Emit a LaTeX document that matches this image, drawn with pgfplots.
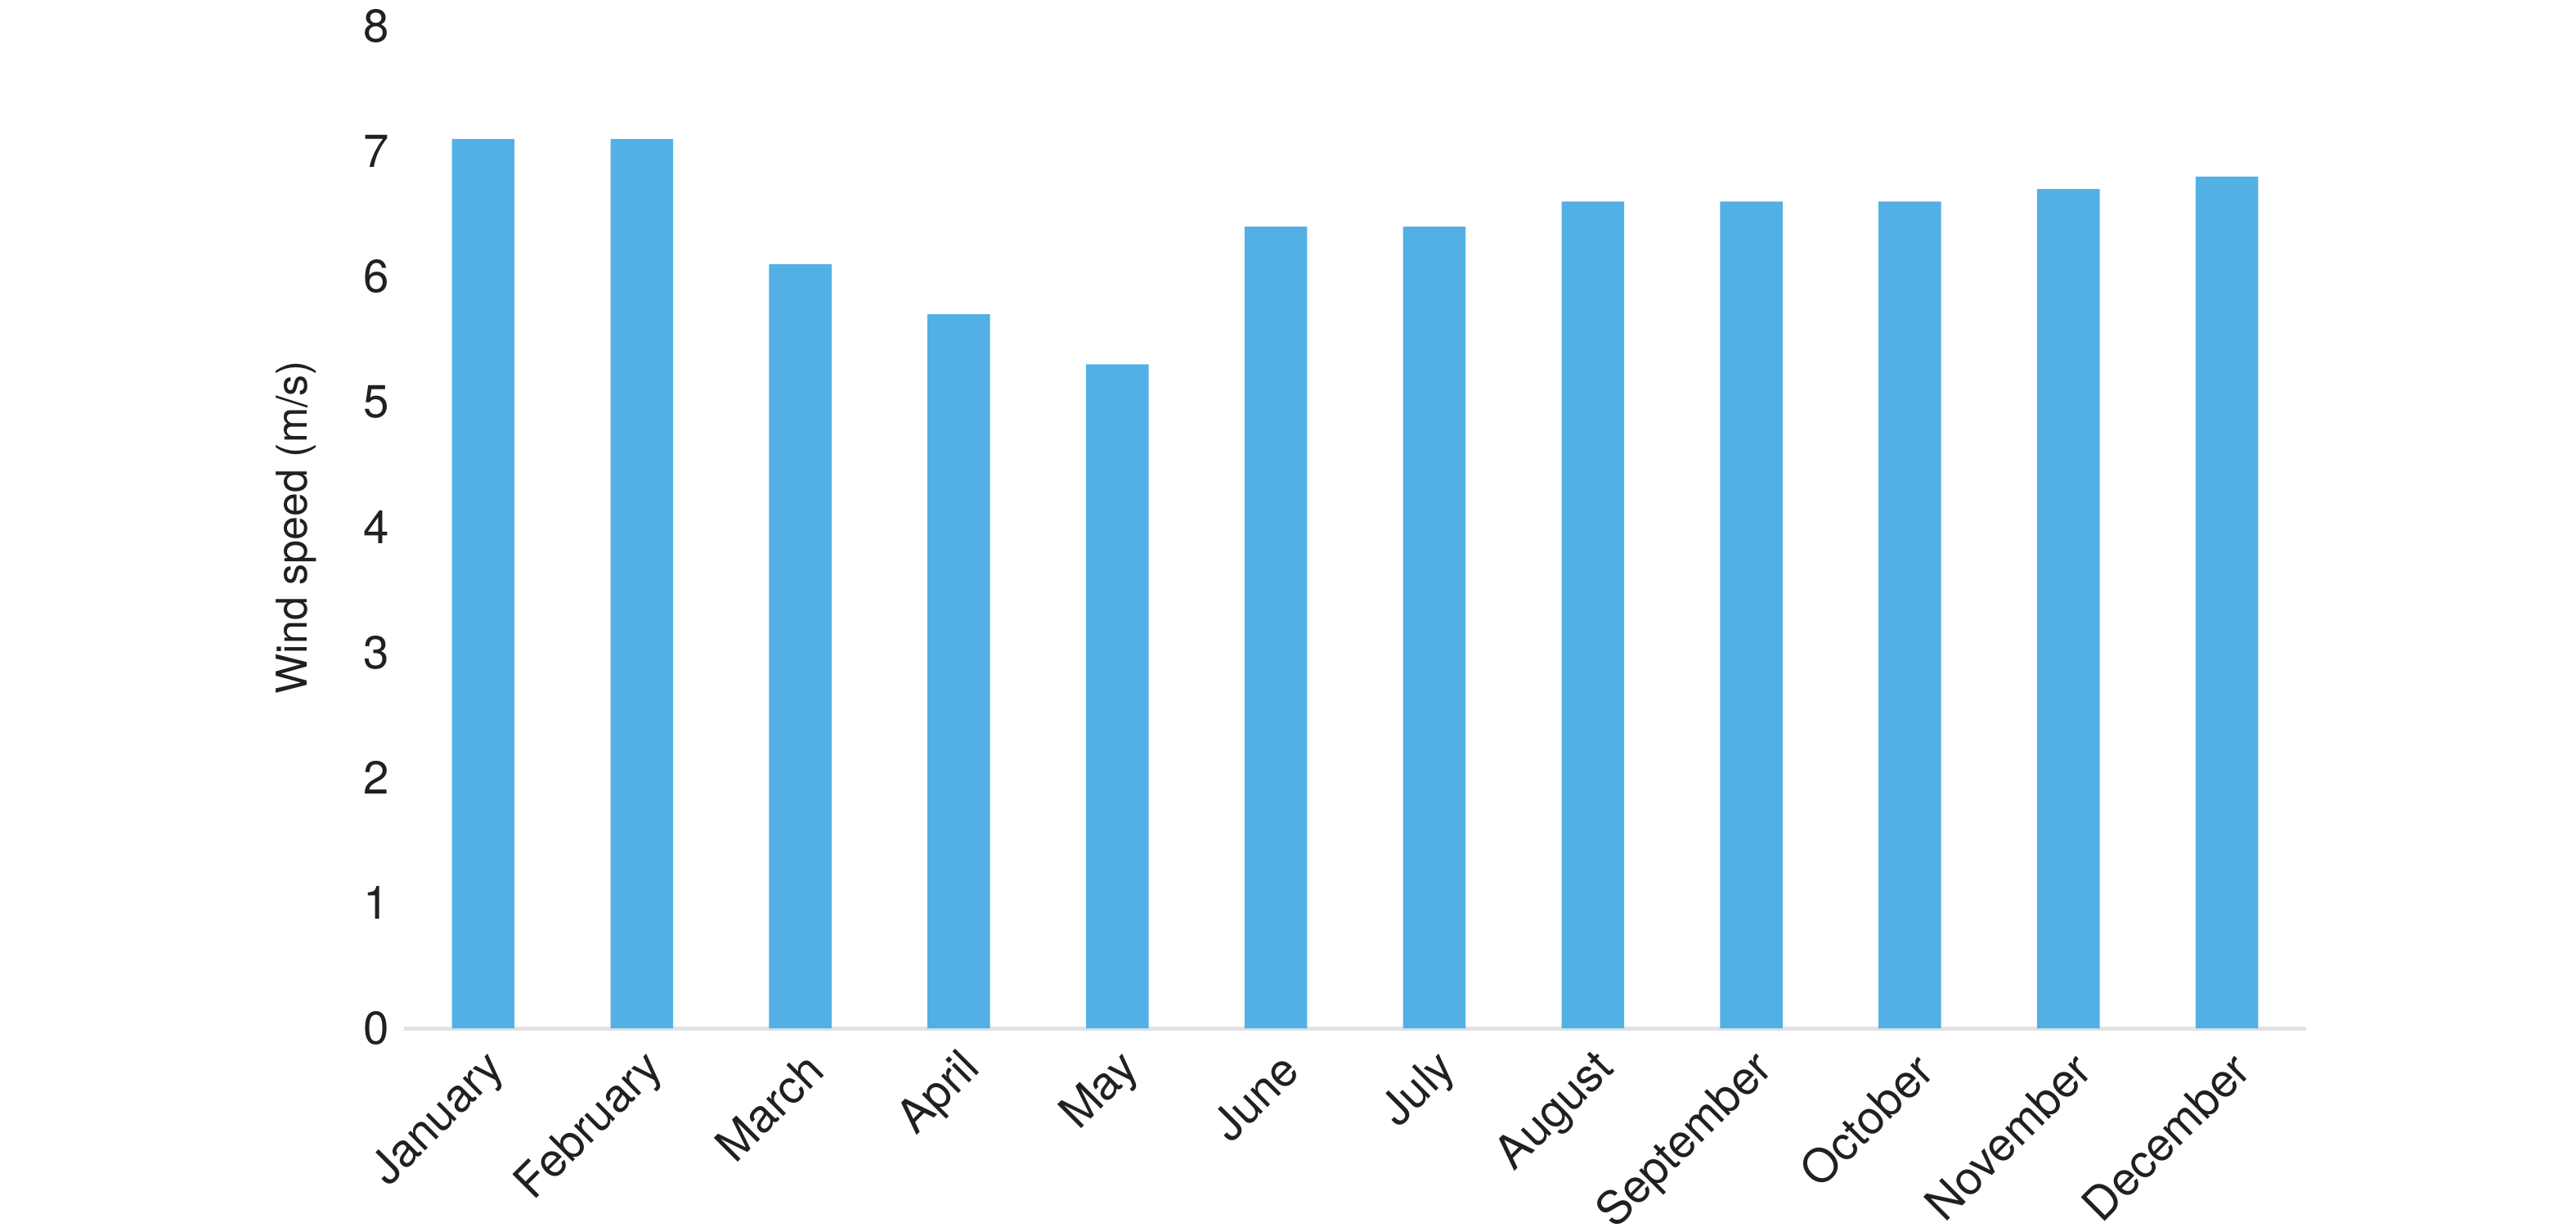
\documentclass[border=0pt]{standalone}
\usepackage{pgfplots}
\pgfplotsset{compat=1.18}
\usepackage{fontspec}
\setmainfont{TeX Gyre Heros}
\definecolor{barblue}{RGB}{83,176,228}
\definecolor{basegray}{RGB}{227,227,227}
\definecolor{txt}{RGB}{35,31,32}
\begin{document}
\begin{tikzpicture}
\useasboundingbox (0,0) rectangle (630pt,301pt);
\begin{axis}[
  at={(98.8pt,49.6pt)}, anchor=south west,
  scale only axis, width=465.2pt, height=245pt,
  xmin=-0.5, xmax=11.5, ymin=0, ymax=8,
  ytick={0,1,...,8},
  xtick={0,...,11},
  xticklabels={January,February,March,April,May,June,July,August,September,October,November,December},
  x tick label style={rotate=45, anchor=east, font=\fontsize{11.3}{13}\selectfont, text=txt, xshift=0.2pt, yshift=-8.3pt},
  y tick label style={font=\fontsize{11.3}{13}\selectfont, text=txt},
  /pgf/number format/assume math mode=true,
  ylabel={Wind speed (m/s)},
  every axis y label/.style={at={(axis description cs:-0.0568,0.5)}, rotate=90, anchor=center, font=\fontsize{10.4}{12}\selectfont, text=txt},
  axis y line*=left, y axis line style={draw=none},
  axis x line*=bottom, x axis line style={draw=basegray, line width=1pt},
  major tick length=0pt,
  tick style={draw=none},
  clip=false,
]
\addplot[ybar, bar width=15.3pt, fill=barblue, draw=none] coordinates {
(0,7.1) (1,7.1) (2,6.1) (3,5.7) (4,5.3) (5,6.4) (6,6.4) (7,6.6) (8,6.6) (9,6.6) (10,6.7) (11,6.8)
};
\end{axis}
\end{tikzpicture}
\end{document}
